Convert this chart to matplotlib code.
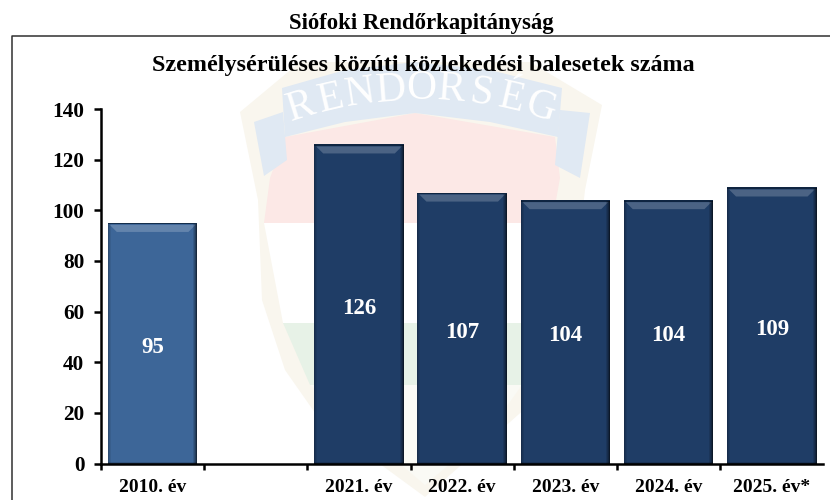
import numpy as np
import matplotlib
matplotlib.use("Agg")
import matplotlib.pyplot as plt
from matplotlib.patches import Polygon
from matplotlib.lines import Line2D
from matplotlib.transforms import IdentityTransform

categories = ["2010. év", "", "2021. év", "2022. év", "2023. év", "2024. év", "2025. év*"]
values = [95, None, 126, 107, 104, 104, 109]
bar_colors = ["#3d6698", None, "#1f3d66", "#1f3d66", "#1f3d66", "#1f3d66", "#1f3d66"]
yticks = [0, 20, 40, 60, 80, 100, 120, 140]
main_title = "Személysérüléses közúti közlekedési balesetek száma"
top_title = "Siófoki Rendőrkapitányság"
watermark_word = "RENDŐRSÉG"

W, H = 830, 500
plt.rcParams['font.family'] = ['Liberation Serif', 'DejaVu Serif']
fig = plt.figure(figsize=(W/100, H/100), dpi=100, facecolor="white")

def fx(x): return x / W
def fy(y): return 1 - y / H

# Faint badge watermark, in figure pixel space
bg = fig.add_axes([0, 0, 1, 1], zorder=0)
bg.set_xlim(0, W); bg.set_ylim(H, 0); bg.axis("off")
def poly(pts, c, z=1):
    bg.add_patch(Polygon(pts, closed=True, fc=c, ec="none", zorder=z))
BEIGE, RED, BLUE, GREEN, PALE = "#f9f6ee", "#fce8e6", "#e0e9f3", "#e7f2e7", "#fafaf5"
poly([(240, 112), (300, 62), (530, 62), (602, 105), (585, 190), (570, 323), (535, 400),
      (425, 497), (320, 420), (285, 370), (262, 300), (258, 200)], BEIGE, 1)
poly([(270, 178), (285, 137), (415, 113), (555, 137), (560, 178), (552, 223), (264, 223)], RED, 2)
poly([(264, 223), (552, 223), (545, 323), (283, 323)], "#ffffff", 2)
poly([(283, 323), (545, 323), (522, 385), (310, 385)], GREEN, 2)
poly([(310, 385), (522, 385), (490, 430), (425, 485), (360, 430)], PALE, 2)
poly([(282, 88), (345, 70), (415, 62), (490, 70), (562, 88), (558, 137), (490, 122), (415, 113),
      (345, 122), (285, 137)], BLUE, 3)
poly([(254, 122), (283, 112), (287, 160), (264, 176)], BLUE, 3)
poly([(560, 110), (590, 113), (580, 178), (555, 165)], BLUE, 3)
n = len(watermark_word)
for i, ch in enumerate(watermark_word):
    a = (i - (n - 1) / 2) * 0.0757
    bg.text(421 + 401 * np.sin(a), 490 - 401 * np.cos(a), ch, fontsize=30, color="white",
            ha="center", va="center", rotation=-np.degrees(a), zorder=4)

# Outer frame (top and left rules only) and titles
fig.add_artist(Line2D([fx(11.5), fx(11.5), 1], [0, fy(35.5), fy(35.5)], color="#303030", lw=1.1,
                      transform=fig.transFigure, zorder=5))
fig.text(fx(421), fy(23), top_title, fontsize=16.4, fontweight="bold", ha="center", va="center", color="black", zorder=6)
fig.text(fx(423.5), fy(65), main_title, fontsize=17.4, fontweight="bold", ha="center", va="center", color="black", zorder=6)

# Main axes
x0, x1, ytop, ybot = 101, 823.4, 109, 463.5
ax = fig.add_axes([fx(x0), fy(ybot), (x1 - x0) / W, (ybot - ytop) / H], zorder=3)
ax.patch.set_alpha(0)
ax.set_xlim(0, len(categories)); ax.set_ylim(0, 140)
ax.spines["top"].set_visible(False); ax.spines["right"].set_visible(False)
for s in ("left", "bottom"):
    ax.spines[s].set_linewidth(1.8)
ax.set_yticks(yticks)
ax.set_xticks(np.arange(len(categories)))
ax.set_xticklabels([])
ax.tick_params(axis="y", length=5, width=1.8, direction="out", pad=7, labelsize=15.3)
ax.tick_params(axis="x", length=4.5, width=1.8, direction="out")
for t in ax.get_yticklabels():
    t.set_fontweight("bold")
for i, c in enumerate(categories):
    if c:
        ax.annotate(c, (i + 0.5, 0), xytext=(0, -17.6), textcoords="offset points", fontsize=14.0,
                    fontweight="bold", ha="center", va="center", annotation_clip=False)

bar_w = 0.868
for i, (v, c) in enumerate(zip(values, bar_colors)):
    if v is None:
        continue
    cx = i + 0.5
    b = ax.bar(cx, v, width=bar_w, color=c, edgecolor="none", zorder=2)[0]
    (lx, by), (rx, ty) = ax.transData.transform([(b.get_x(), 0), (b.get_x() + b.get_width(), v)])
    def add(pts, col, alpha):
        ax.add_patch(Polygon(pts, closed=True, fc=col, alpha=alpha, ec="none",
                             transform=IdentityTransform(), zorder=3))
    # soft bevel, inset in display pixels from the bar's own corners
    add([(lx + 2, ty - 2), (rx - 2, ty - 2), (rx - 9, ty - 9), (lx + 9, ty - 9)], "#ffffff", 0.2)
    add([(lx, ty), (rx, ty), (rx, ty - 1.5), (lx, ty - 1.5)], "#0c2038", 0.8)
    for k, al in enumerate([0.6, 0.4, 0.25, 0.12]):
        add([(rx - k, ty - 1), (rx - k, by), (rx - k - 1, by), (rx - k - 1, ty - 1)], "#000000", al)
    for k, al in enumerate([0.25, 0.15, 0.08]):
        add([(lx + k, ty - 1), (lx + k, by), (lx + k + 1, by), (lx + k + 1, ty - 1)], "#000000", al)
    for k, al in enumerate([0.3, 0.15]):
        add([(lx, by + k), (rx, by + k), (rx, by + k + 1), (lx, by + k + 1)], "#000000", al)
    ax.annotate(str(v), (cx, v / 2), xytext=(0, -3), textcoords="offset points", color="white",
                fontsize=16.5, fontweight="bold", ha="center", va="center", zorder=4)

fig.savefig("out.png", dpi=100, facecolor="white")
